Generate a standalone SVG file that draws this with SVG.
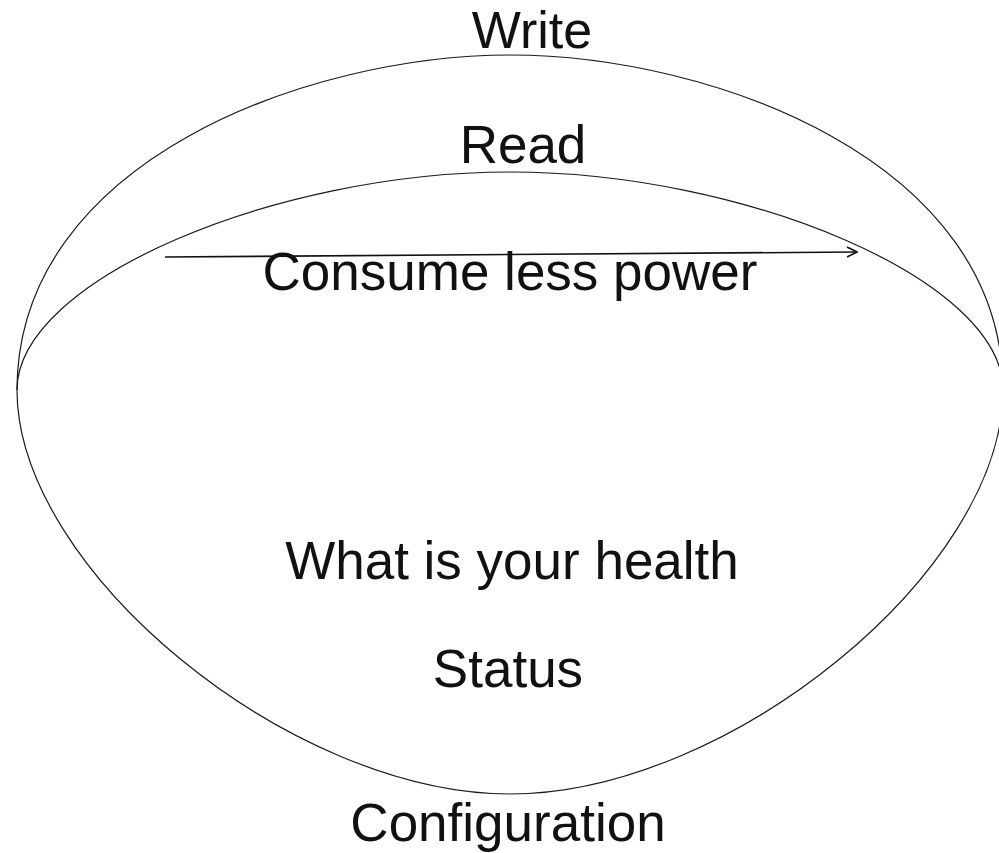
<svg xmlns="http://www.w3.org/2000/svg" width="999" height="853" viewBox="0 0 999 853">
  <style>
    .curve { fill: none; stroke: #1a1a1a; stroke-width: 1.2; }
    .label { font-family: "Liberation Sans", Arial, sans-serif; font-size: 53px; fill: #111; text-anchor: middle; }
    .conn { fill: none; stroke: #111; stroke-width: 1.6; }
  </style>
  <defs>
    <marker id="open-arrow" viewBox="0 0 12 12" refX="11" refY="6" markerWidth="12" markerHeight="12" markerUnits="userSpaceOnUse" orient="auto">
      <path d="M1,1 L11,6 L1,11" fill="none" stroke="#111" stroke-width="1.6"/>
    </marker>
  </defs>

  <g id="shell">
    <!-- outer upper arc -->
    <path id="arc-write" class="curve" d="M17,390 C17,160 310,55 510,55 C710,55 1003,160 1003,390"/>
    <!-- inner upper arc -->
    <path id="arc-read" class="curve" d="M17,390 C17,280 275,172 510,172 C745,172 1003,280 1003,390"/>
    <!-- lower arc -->
    <path id="arc-config" class="curve" d="M17,390 C17,570 290,794 510,794 C730,794 1003,570 1003,390"/>
  </g>

  <g id="connectors">
    <line class="conn" x1="165" y1="257" x2="857" y2="252" marker-end="url(#open-arrow)"/>
  </g>

  <g id="node-write"><text class="label" x="532" y="48" style="font-size:52px">Write</text></g>
  <g id="node-read"><text class="label" x="523" y="163">Read</text></g>
  <g id="node-power"><text class="label" x="510" y="290">Consume less power</text></g>
  <g id="node-health"><text class="label" x="512" y="579">What is your health</text></g>
  <g id="node-status"><text class="label" x="508" y="687">Status</text></g>
  <g id="node-config"><text class="label" x="508" y="841">Configuration</text></g>
</svg>
